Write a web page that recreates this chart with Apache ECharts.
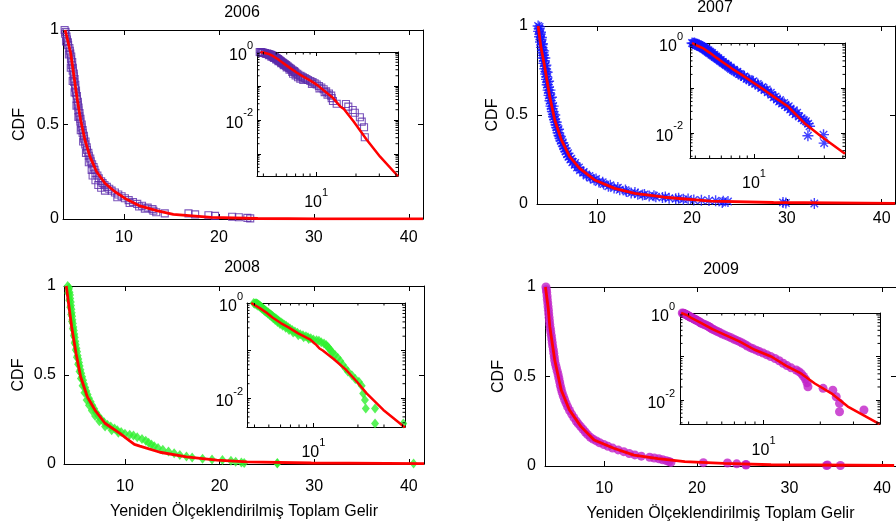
<!DOCTYPE html>
<html>
<head>
<meta charset="utf-8">
<script src="https://cdn.jsdelivr.net/npm/echarts@6/dist/echarts.min.js"></script>
<style>html,body{margin:0;padding:0;background:#fff}#c{width:896px;height:529px}</style>
</head>
<body>
<div id="c"></div>
<script>
// ---------------- DATA ----------------
const years = ['2006', '2007', '2008', '2009'];
const xTicks = [10, 20, 30, 40];
const insetXLabels = [10];
const insetYLabels = [1, 0.01];
const insetMinorX = [2, 3, 4, 5, 6, 7, 8, 9, 20, 30, 40];
const xAxisTitle = 'Yeniden Ölçeklendirilmiş Toplam Gelir';
const yAxisTitle = 'CDF';

const points2006 = [[3.75,1.0],[3.85,0.99],[3.8,0.98],[3.95,0.965],[4.0,0.95],[4.1,0.935],[4.12,0.92],[4.25,0.905],[4.3,0.89],[4.35,0.875],[4.45,0.86],[4.42,0.845],[4.55,0.83],[4.5,0.815],[4.62,0.8],[4.6,0.785],[4.72,0.77],[4.7,0.755],[4.8,0.74],[4.75,0.725],[4.88,0.71],[4.85,0.695],[4.95,0.68],[4.95,0.665],[5.05,0.65],[5.02,0.635],[5.15,0.62],[5.12,0.605],[5.22,0.59],[5.2,0.575],[5.32,0.56],[5.3,0.545],[5.42,0.53],[5.4,0.515],[5.55,0.5],[5.52,0.485],[5.65,0.47],[5.65,0.455],[5.78,0.44],[5.8,0.425],[5.95,0.41],[5.92,0.395],[6.08,0.38],[6.1,0.365],[6.25,0.35],[6.3,0.335],[6.45,0.32],[6.5,0.305],[6.65,0.29],[6.8,0.275],[6.9,0.26],[7.0,0.245],[7.2,0.23],[7.35,0.215],[7.6,0.2],[7.75,0.19],[7.95,0.18],[8.2,0.17],[8.45,0.16],[8.7,0.15],[9.05,0.14],[9.4,0.13],[9.75,0.12],[10.1,0.11],[10.5,0.1],[10.95,0.09],[11.4,0.08],[11.9,0.07],[12.5,0.06],[13.0,0.052],[13.1,0.044],[13.4,0.036],[14.3,0.03],[6.7,0.23],[7.0,0.205],[7.3,0.18],[7.6,0.165],[8.0,0.15],[3.9,0.94],[4.2,0.87],[4.4,0.8],[4.6,0.73],[4.8,0.67],[5.0,0.6],[5.2,0.54],[5.45,0.47],[5.7,0.41],[6.0,0.35],[6.3,0.3],[6.6,0.26],[9.3,0.115],[10.6,0.085],[11.6,0.066],[12.2,0.055],[16.8,0.0295],[17.5,0.0246],[18.9,0.0197],[19.6,0.0163],[21.4,0.012],[22.1,0.0089],[23.0,0.0061],[23.3,0.0031]];
const fit2006 = [[3.8,1.0],[4.05,0.95],[4.39,0.877],[4.74,0.753],[5.09,0.63],[5.44,0.524],[5.89,0.418],[6.42,0.33],[7.12,0.25],[8.0,0.189],[9.05,0.144],[10.28,0.104],[11.68,0.069],[13.44,0.044],[15.2,0.025],[16.2,0.021],[19.2,0.009],[24.1,0.0026],[30.4,0.00083],[41.5,0.00022]];

const points2007 = [[3.8,1.0],[3.9,0.985],[3.85,0.97],[4.0,0.955],[3.95,0.94],[4.1,0.925],[4.05,0.91],[4.2,0.895],[4.15,0.88],[4.25,0.865],[4.3,0.85],[4.35,0.835],[4.3,0.82],[4.45,0.805],[4.4,0.79],[4.55,0.775],[4.5,0.76],[4.62,0.745],[4.6,0.73],[4.7,0.715],[4.68,0.7],[4.78,0.685],[4.75,0.67],[4.88,0.655],[4.85,0.64],[4.98,0.625],[4.95,0.61],[5.08,0.595],[5.05,0.58],[5.18,0.565],[5.15,0.55],[5.28,0.535],[5.3,0.52],[5.4,0.505],[5.42,0.49],[5.52,0.475],[5.6,0.46],[5.68,0.445],[5.75,0.43],[5.85,0.415],[5.9,0.4],[6.0,0.385],[6.1,0.37],[6.2,0.355],[6.35,0.34],[6.45,0.325],[6.6,0.31],[6.7,0.295],[6.85,0.28],[7.0,0.265],[7.2,0.25],[7.4,0.235],[7.65,0.22],[7.9,0.205],[8.2,0.19],[8.55,0.175],[8.9,0.16],[9.3,0.148],[9.7,0.136],[10.2,0.124],[10.7,0.112],[11.2,0.1],[11.8,0.09],[12.4,0.08],[13.1,0.07],[13.6,0.062],[14.3,0.055],[14.8,0.05],[15.5,0.045],[16.2,0.041],[16.9,0.037],[17.6,0.033],[18.3,0.029],[19.1,0.026],[20.2,0.023],[21.0,0.021],[21.8,0.019],[22.5,0.018],[23.3,0.016],[23.8,0.014],[23.2,0.0086],[29.6,0.0091],[29.9,0.0059],[32.9,0.0027],[3.95,0.995],[4.05,0.965],[4.15,0.935],[4.25,0.9],[4.38,0.86],[4.5,0.82],[4.62,0.78],[4.75,0.74],[4.9,0.69],[5.05,0.64],[5.2,0.6],[5.38,0.55],[5.55,0.5],[5.72,0.46],[5.95,0.42],[6.15,0.38],[6.4,0.345],[6.65,0.315],[6.95,0.285],[7.3,0.255],[7.7,0.23],[8.1,0.205],[8.6,0.18],[9.2,0.158],[9.9,0.14],[10.6,0.122],[11.4,0.105],[12.2,0.092],[13.0,0.078],[14.0,0.064],[15.0,0.054],[16.0,0.046],[17.2,0.039],[18.6,0.032],[19.6,0.028]];
const fit2007 = [[3.8,1.0],[4.1,0.88],[4.49,0.771],[5.02,0.603],[5.55,0.472],[6.25,0.36],[7.12,0.266],[8.17,0.2],[9.75,0.135],[11.86,0.088],[13.97,0.06],[17.1,0.038],[22.0,0.0164],[28.6,0.0083],[41.4,0.0034]];

const points2008 = [[3.95,1.0],[4.1,0.99],[4.05,0.98],[4.15,0.965],[4.2,0.95],[4.22,0.93],[4.28,0.91],[4.3,0.89],[4.35,0.87],[4.38,0.85],[4.42,0.83],[4.45,0.81],[4.5,0.79],[4.55,0.77],[4.6,0.75],[4.65,0.73],[4.7,0.71],[4.75,0.69],[4.8,0.67],[4.88,0.65],[4.95,0.63],[5.0,0.61],[5.08,0.59],[5.15,0.57],[5.22,0.55],[5.3,0.53],[5.38,0.51],[5.48,0.49],[5.58,0.47],[5.68,0.45],[5.8,0.43],[5.92,0.41],[6.05,0.39],[6.2,0.37],[6.38,0.35],[6.55,0.33],[6.75,0.31],[6.95,0.29],[7.2,0.27],[7.5,0.25],[7.8,0.235],[8.15,0.22],[8.5,0.21],[8.9,0.2],[9.2,0.19],[9.6,0.18],[10.0,0.17],[10.5,0.165],[10.9,0.16],[11.3,0.15],[11.8,0.14],[12.2,0.13],[12.5,0.12],[12.8,0.11],[13.1,0.1],[13.5,0.09],[14.0,0.08],[14.6,0.07],[15.2,0.06],[15.8,0.05],[16.5,0.042],[17.1,0.036],[18.2,0.03],[19.2,0.025],[20.3,0.022],[21.2,0.018],[21.7,0.0125],[22.3,0.0091],[22.6,0.006],[26.1,0.006],[26.1,0.0029],[40.5,0.0029],[4.0,0.96],[4.12,0.92],[4.22,0.88],[4.32,0.84],[4.4,0.8],[4.5,0.76],[4.6,0.72],[4.68,0.68],[4.8,0.64],[4.92,0.6],[5.05,0.56],[5.2,0.52],[5.35,0.48],[5.52,0.44],[5.72,0.4],[5.95,0.36],[6.2,0.33],[6.5,0.3],[6.85,0.27],[7.3,0.24],[7.9,0.21],[8.6,0.19],[9.3,0.175]];
const fit2008 = [[3.8,1.0],[4.37,0.771],[4.83,0.622],[5.32,0.49],[6.02,0.378],[6.83,0.303],[7.89,0.229],[9.47,0.172],[10.5,0.13],[11.0,0.11],[11.58,0.1],[13.7,0.066],[16.5,0.04],[19.7,0.022],[22.9,0.0125],[29.7,0.0056],[41.6,0.0024]];

const points2009 = [[3.7,1.0],[3.75,0.985],[3.78,0.97],[3.82,0.95],[3.85,0.93],[3.9,0.91],[3.93,0.89],[3.97,0.87],[4.0,0.85],[4.04,0.83],[4.08,0.81],[4.12,0.79],[4.17,0.77],[4.22,0.75],[4.28,0.73],[4.33,0.71],[4.38,0.69],[4.43,0.67],[4.5,0.65],[4.55,0.63],[4.6,0.61],[4.65,0.59],[4.72,0.57],[4.82,0.55],[4.92,0.53],[5.02,0.51],[5.1,0.49],[5.18,0.47],[5.25,0.45],[5.35,0.43],[5.45,0.41],[5.58,0.39],[5.72,0.37],[5.88,0.35],[6.05,0.33],[6.25,0.31],[6.48,0.29],[6.72,0.27],[6.98,0.25],[7.2,0.235],[7.45,0.22],[7.7,0.205],[7.95,0.19],[8.2,0.175],[8.5,0.16],[8.8,0.15],[9.15,0.14],[9.5,0.13],[9.95,0.12],[10.4,0.11],[10.9,0.1],[11.5,0.09],[12.1,0.08],[12.7,0.07],[13.3,0.062],[14.0,0.055],[14.9,0.049],[15.4,0.045],[15.9,0.04],[16.3,0.035],[16.7,0.03],[17.0,0.025],[17.2,0.0202],[20.7,0.0186],[23.3,0.0169],[24.3,0.0119],[25.3,0.0084],[25.3,0.0054],[34.1,0.0059],[34.0,0.0027],[35.5,0.0027]];
const fit2009 = [[3.65,1.0],[3.95,0.88],[4.12,0.778],[4.65,0.592],[5.35,0.425],[6.24,0.313],[7.48,0.22],[8.9,0.145],[11.03,0.099],[13.2,0.061],[15.8,0.041],[18.7,0.024],[22.9,0.0143],[28.0,0.0071],[41.3,0.0028]];

// ---------------- STYLE / LAYOUT ----------------
const FONT = '"Liberation Sans", Arial, Helvetica, sans-serif';
const BLACK = '#000000';
const RED = '#ff0000';
const ASTERISK = 'path://M5,0L5,10M0,5L10,5M1.6,1.6L8.4,8.4M8.4,1.6L1.6,8.4';

const panels = [
  { title: years[0], points: points2006, fit: fit2006, color: '#5a2aaa',
    marker: { symbol: 'rect', size: 7, stroke: true, width: 1.1 },
    main: { left: 63, top: 30, width: 360, height: 189, xMin: 3.58, xMax: 41.5, yLabelMargin: 4, xLabelMargin: 11, nameGap: 35 },
    inset: { left: 257, top: 52, width: 141, height: 124, yMin: 0.000224, yLabelMargin: 4, xLabelMargin: 11 },
    titlePos: [242, 5], showXName: false },
  { title: years[1], points: points2007, fit: fit2007, color: '#1414ff',
    marker: { symbol: ASTERISK, size: 11, stroke: true, width: 1.4 },
    main: { left: 537, top: 26, width: 358, height: 178, xMin: 3.68, xMax: 41.4, yLabelMargin: 9, xLabelMargin: 7, nameGap: 36 },
    inset: { left: 690, top: 43, width: 155, height: 115, yMin: 0.00275, yLabelMargin: 7, xLabelMargin: 10 },
    titlePos: [715, 0], showXName: false },
  { title: years[2], points: points2008, fit: fit2008, color: '#2ef02e',
    marker: { symbol: 'diamond', size: [8, 10], stroke: false },
    main: { left: 64, top: 286, width: 360, height: 178, xMin: 3.56, xMax: 41.6, yLabelMargin: 8, xLabelMargin: 15, nameGap: 37 },
    inset: { left: 247, top: 303, width: 158, height: 124, yMin: 0.00245, yLabelMargin: 4, xLabelMargin: 10 },
    titlePos: [242, 260], showXName: true },
  { title: years[3], points: points2009, fit: fit2009, color: '#c020c8',
    marker: { symbol: 'circle', size: 9, stroke: false },
    main: { left: 545, top: 287, width: 356, height: 179, xMin: 3.6, xMax: 41.5, yLabelMargin: 9, xLabelMargin: 15, nameGap: 38 },
    inset: { left: 680, top: 313, width: 200, height: 111, yMin: 0.00282, yLabelMargin: 5, xLabelMargin: 11 },
    titlePos: [721, 262], showXName: true }
];

const rich = {
  b: { fontSize: 16, fontFamily: FONT, color: BLACK, padding: [8, 0, 0, 0], verticalAlign: 'bottom' },
  s: { fontSize: 11, fontFamily: FONT, color: BLACK, verticalAlign: 'top' }
};
function logLabel(list) {
  return function (v) {
    const lv = Math.log10(v);
    const e = Math.round(lv);
    if (Math.abs(lv - e) > 1e-6) return '';
    if (!list.some(t => Math.abs(Math.log10(t) - lv) < 1e-6)) return '';
    return '{b|10}{s|' + e + '}';
  };
}
const tickLine = { color: BLACK, width: 1 };
function axisBase(extra) {
  return Object.assign({
    axisLine: { show: true, onZero: false, lineStyle: { color: BLACK, width: 1 } },
    splitLine: { show: false },
    silent: true
  }, extra);
}

const grid = [], xAxis = [], yAxis = [], series = [], title = [];

panels.forEach(p => {
  const m = p.main, ins = p.inset, mk = p.marker;
  const itemStyle = mk.stroke
    ? { color: 'rgba(0,0,0,0)', borderColor: p.color, borderWidth: mk.width }
    : { color: p.color };

  title.push({ text: p.title, left: p.titlePos[0], top: p.titlePos[1], textAlign: 'center', padding: 0,
    textStyle: { fontSize: 16, fontWeight: 'normal', color: BLACK, fontFamily: FONT } });

  // ---- main plot ----
  const gi = grid.length;
  grid.push({ left: m.left, top: m.top, width: m.width, height: m.height, containLabel: false });
  const xb = xAxis.length;
  xAxis.push(axisBase({ gridIndex: gi, type: 'value', position: 'bottom', min: m.xMin, max: m.xMax,
    axisTick: { show: true, inside: true, length: 5, customValues: xTicks, lineStyle: tickLine },
    axisLabel: { show: true, customValues: xTicks, margin: m.xLabelMargin, color: BLACK, fontSize: 16, fontFamily: FONT,
      formatter: v => xTicks.includes(v) ? String(v) : '' },
    name: p.showXName ? xAxisTitle : '', nameLocation: 'middle', nameGap: 40,
    nameTextStyle: { color: BLACK, fontSize: 16, fontFamily: FONT } }));
  xAxis.push(axisBase({ gridIndex: gi, type: 'value', position: 'top', min: m.xMin, max: m.xMax,
    axisTick: { show: true, inside: true, length: 5, customValues: xTicks, lineStyle: tickLine },
    axisLabel: { show: false } }));
  const yl = yAxis.length;
  yAxis.push(axisBase({ gridIndex: gi, type: 'value', position: 'left', min: 0, max: 1, interval: 0.5,
    axisTick: { show: true, inside: true, length: 5, lineStyle: tickLine },
    axisLabel: { show: true, margin: m.yLabelMargin, color: BLACK, fontSize: 16, fontFamily: FONT },
    name: yAxisTitle, nameLocation: 'middle', nameGap: m.nameGap,
    nameTextStyle: { color: BLACK, fontSize: 16, fontFamily: FONT } }));
  yAxis.push(axisBase({ gridIndex: gi, type: 'value', position: 'right', min: 0, max: 1, interval: 0.5,
    axisTick: { show: true, inside: true, length: 5, lineStyle: tickLine },
    axisLabel: { show: false } }));

  series.push({ type: 'scatter', xAxisIndex: xb, yAxisIndex: yl, data: p.points, symbol: mk.symbol,
    symbolSize: mk.size, itemStyle: itemStyle, z: 2, silent: true });
  series.push({ type: 'line', xAxisIndex: xb, yAxisIndex: yl, data: p.fit, showSymbol: false, symbol: 'none',
    lineStyle: { color: RED, width: 2.8 }, z: 3, silent: true });

  // ---- inset (log-log) ----
  const ii = grid.length;
  grid.push({ left: ins.left, top: ins.top, width: ins.width, height: ins.height, containLabel: false,
    show: true, backgroundColor: '#ffffff', borderWidth: 0 });
  const ixb = xAxis.length;
  xAxis.push(axisBase({ gridIndex: ii, type: 'log', logBase: 10, position: 'bottom', min: m.xMin, max: m.xMax,
    axisTick: { show: true, inside: true, length: 4, lineStyle: tickLine },
    axisLabel: { show: true, margin: ins.xLabelMargin, formatter: logLabel(insetXLabels), rich: rich } }));
  xAxis.push(axisBase({ gridIndex: ii, type: 'log', logBase: 10, position: 'top', min: m.xMin, max: m.xMax,
    axisTick: { show: true, inside: true, length: 4, lineStyle: tickLine }, axisLabel: { show: false } }));
  const iyl = yAxis.length;
  yAxis.push(axisBase({ gridIndex: ii, type: 'log', logBase: 10, position: 'left', min: ins.yMin, max: 1,
    axisTick: { show: true, inside: true, length: 4, lineStyle: tickLine },
    axisLabel: { show: true, margin: ins.yLabelMargin, formatter: logLabel(insetYLabels), rich: rich } }));
  yAxis.push(axisBase({ gridIndex: ii, type: 'log', logBase: 10, position: 'right', min: ins.yMin, max: 1,
    axisTick: { show: true, inside: true, length: 4, lineStyle: tickLine }, axisLabel: { show: false } }));

  series.push({ type: 'scatter', xAxisIndex: ixb, yAxisIndex: iyl, data: p.points, symbol: mk.symbol,
    symbolSize: mk.size, itemStyle: itemStyle, z: 4, silent: true });
  series.push({ type: 'line', xAxisIndex: ixb, yAxisIndex: iyl, data: p.fit, showSymbol: false, symbol: 'none',
    lineStyle: { color: RED, width: 2.5 }, z: 5, silent: true });

  // minor log ticks (MATLAB style) drawn through the inset scales
  const minorX = insetMinorX.filter(v => v > m.xMin && v < m.xMax);
  series.push({ type: 'custom', xAxisIndex: ixb, yAxisIndex: iyl, silent: true, z: 6,
    data: minorX.map(v => [v, 1]),
    renderItem: (params, api) => {
      const cs = params.coordSys;
      const x = api.coord([api.value(0), 1])[0];
      const b = cs.y + cs.height;
      return { type: 'group', children: [
        { type: 'line', shape: { x1: x, y1: b, x2: x, y2: b - 2.5 }, style: { stroke: BLACK, lineWidth: 1 } },
        { type: 'line', shape: { x1: x, y1: cs.y, x2: x, y2: cs.y + 2.5 }, style: { stroke: BLACK, lineWidth: 1 } }
      ] };
    } });
  const minorY = [];
  for (let e = -4; e <= -1; e++) for (let k = 2; k <= 9; k++) {
    const v = k * Math.pow(10, e);
    if (v > ins.yMin && v < 1) minorY.push(v);
  }
  series.push({ type: 'custom', xAxisIndex: ixb, yAxisIndex: iyl, silent: true, z: 6,
    data: minorY.map(v => [10, v]),
    renderItem: (params, api) => {
      const cs = params.coordSys;
      const y = api.coord([10, api.value(1)])[1];
      const r = cs.x + cs.width;
      return { type: 'group', children: [
        { type: 'line', shape: { x1: cs.x, y1: y, x2: cs.x + 2.5, y2: y }, style: { stroke: BLACK, lineWidth: 1 } },
        { type: 'line', shape: { x1: r, y1: y, x2: r - 2.5, y2: y }, style: { stroke: BLACK, lineWidth: 1 } }
      ] };
    } });
});

const chart = echarts.init(document.getElementById('c'), null, { renderer: 'canvas' });
chart.setOption({
  animation: false,
  backgroundColor: '#ffffff',
  textStyle: { fontFamily: FONT },
  title: title,
  grid: grid,
  xAxis: xAxis,
  yAxis: yAxis,
  series: series
});
</script>
</body>
</html>
